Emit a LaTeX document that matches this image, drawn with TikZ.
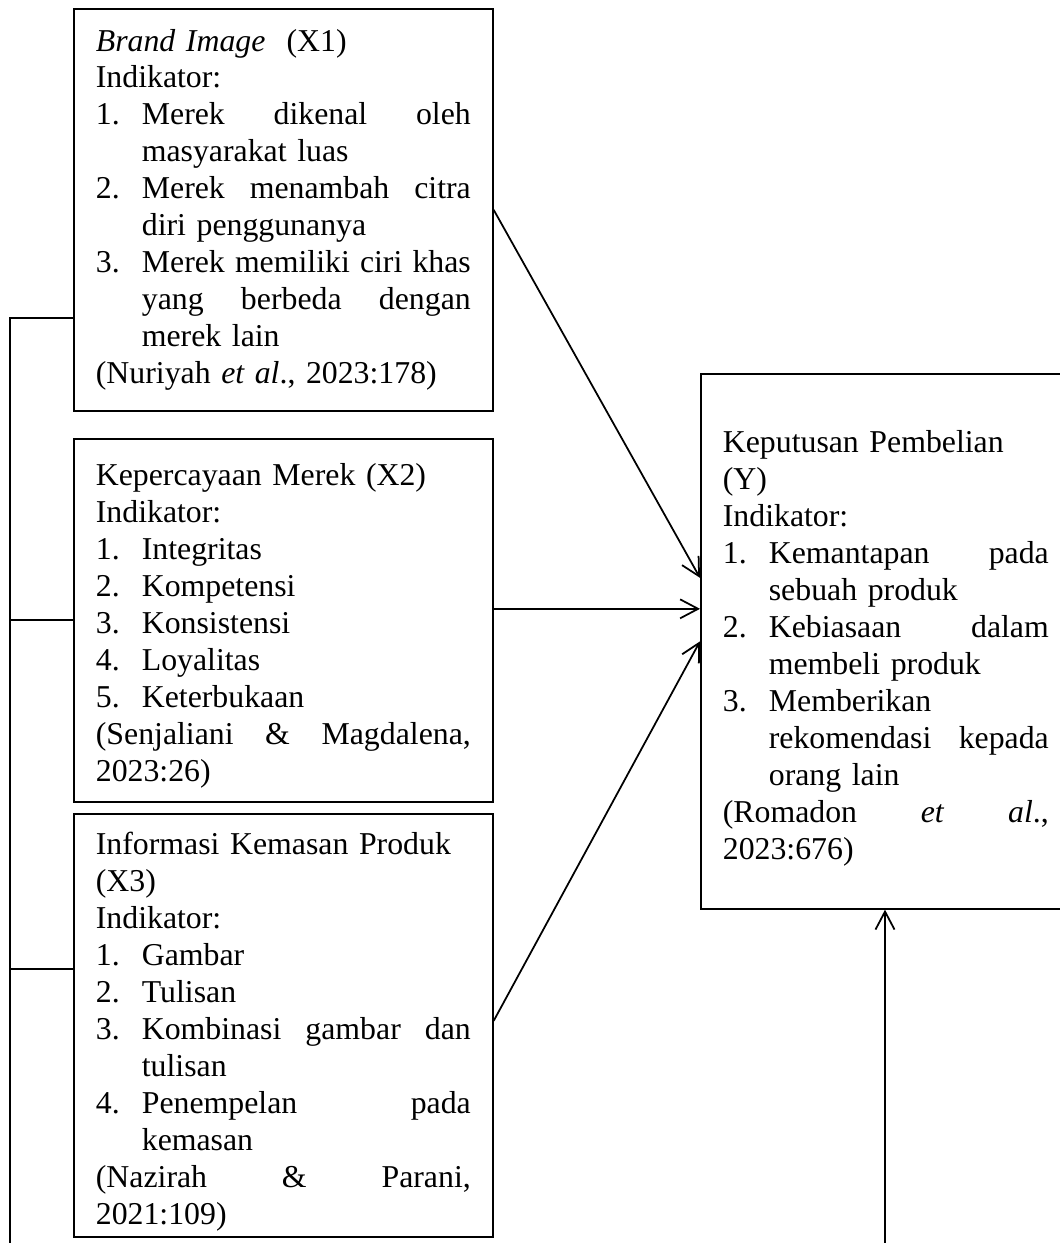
\documentclass[tikz,border=0pt]{standalone}
\usepackage{fontspec}
\setmainfont{Liberation Serif}
\usetikzlibrary{arrows.meta}

\newlength{\numwd}
\setlength{\numwd}{0.92cm}
% list lines: number + text, justified or ragged
\newcommand{\spread}[2]{\leavevmode\hbox to #1{\spaceskip=.25em plus 1fil\xspaceskip=\spaceskip #2}}
\newcommand{\jline}[1]{\spread{\hsize}{#1}}
\newcommand{\itm}[2]{\makebox[\numwd][l]{#1}#2}
\newcommand{\jitm}[2]{\makebox[\numwd][l]{#1}\spread{\dimexpr\hsize-\numwd\relax}{#2}}
\newcommand{\cont}[1]{\hspace*{\numwd}#1}
\newcommand{\jcont}[1]{\hspace*{\numwd}\spread{\dimexpr\hsize-\numwd\relax}{#1}}

\begin{document}
\begin{tikzpicture}[x=0.02cm,y=-0.02cm,
				varbox/.style={draw,line width=1pt,anchor=north west,align=left,
					inner xsep=0.44cm,inner ysep=0pt,
					font=\fontsize{18.1}{21.05}\selectfont},
				arr/.style={line width=1pt,-{Straight Barb[length=0.36cm,width=0.38cm]}},
				bus/.style={line width=1pt}]
\clip (0,0) rectangle (1060,1243);

\node[varbox,text width=7.5cm,minimum width=8.38cm,minimum height=8.04cm] (x1) at (73,8) {%
\textit{Brand Image}\ \ (X1)\\
Indikator:\\
\jitm{1.}{Merek dikenal oleh}\\
\cont{masyarakat luas}\\
\jitm{2.}{Merek menambah citra}\\
\cont{diri penggunanya}\\
\jitm{3.}{Merek memiliki ciri khas}\\
\jcont{yang berbeda dengan}\\
\cont{merek lain}\\
(Nuriyah \textit{et al}., 2023:178)};

\node[varbox,text width=7.5cm,minimum width=8.38cm,minimum height=7.26cm] (x2) at (73,438) {%
\rule{0pt}{18.5pt}Kepercayaan Merek (X2)\\
Indikator:\\
\itm{1.}{Integritas}\\
\itm{2.}{Kompetensi}\\
\itm{3.}{Konsistensi}\\
\itm{4.}{Loyalitas}\\
\itm{5.}{Keterbukaan}\\
\jline{(Senjaliani \& Magdalena,}\\
2023:26)};

\node[varbox,text width=7.5cm,minimum width=8.38cm,minimum height=8.46cm] (x3) at (73,813) {%
\rule{0pt}{20pt}Informasi Kemasan Produk\\
(X3)\\
Indikator:\\
\itm{1.}{Gambar}\\
\itm{2.}{Tulisan}\\
\jitm{3.}{Kombinasi gambar dan}\\
\cont{tulisan}\\
\jitm{4.}{Penempelan pada}\\
\cont{kemasan}\\
\jline{(Nazirah \& Parani,}\\
2021:109)};

\node[varbox,text width=6.52cm,minimum width=7.4cm,minimum height=10.7cm] (y) at (700,373) {%
\rule{0pt}{20.5pt}Keputusan Pembelian\\
(Y)\\
Indikator:\\
\jitm{1.}{Kemantapan pada}\\
\cont{sebuah produk}\\
\jitm{2.}{Kebiasaan dalam}\\
\cont{membeli produk}\\
\itm{3.}{Memberikan}\\
\jcont{rekomendasi kepada}\\
\cont{orang lain}\\
\jline{(Romadon \textit{et} \textit{al}.,}\\
2023:676)};

% arrows into Y
\coordinate (y1) at ([yshift=1.27cm]y.west);
\coordinate (y2) at ([yshift=0.65cm]y.west);
\draw[arr] (x1.east) -- (y1);
\draw[arr] (x2.east |- y2) -- (y2);
\draw[arr] ([yshift=0.09cm]x3.east) -- (y.west);

% line from below
\coordinate (base) at (885,1243);
\draw[arr] (base) -- (base |- y.south);

% left bus
\coordinate (left) at (10,1243);
\coordinate (s1) at ([yshift=-2.16cm]x1.west);
\coordinate (s3) at ([yshift=1.13cm]x3.west);
\draw[bus] (left) |- (s1);
\draw[bus] (left |- x2.west) -- (x2.west);
\draw[bus] (left |- s3) -- (s3);
\end{tikzpicture}
\end{document}
